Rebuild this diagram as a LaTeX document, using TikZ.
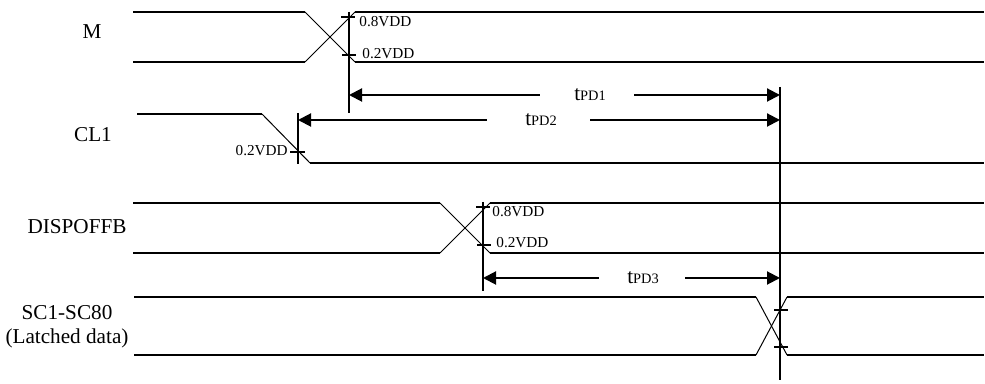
\documentclass[tikz,border=0pt]{standalone}
\usepackage{fontspec}
\setmainfont{Liberation Serif}
\usetikzlibrary{arrows.meta}
\newcommand{\tpd}[1]{t{\fontsize{7.2}{8}\selectfont PD#1}}
\begin{document}
\begin{tikzpicture}[x=0.5pt, y=-0.5pt,
		sig/.style={line width=1pt},
		edge/.style={line width=0.5pt},
		marker/.style={line width=1pt},
		lvltick/.style={line width=0.8pt},
		dly/.style={line width=1pt, -{Triangle[length=6.5pt,width=6.5pt]}},
		lvl/.style={font=\fontsize{7.6}{8}\selectfont, inner sep=0pt},
		siglbl/.style={font=\fontsize{10.6}{12}\selectfont, align=center, inner sep=0pt},
		dlbl/.style={font=\fontsize{10.6}{12}\selectfont, inner sep=0pt}]
	\useasboundingbox (0,0) rectangle (985,384);

	% M
	\node[siglbl] (lM) at (92,32) {M};
	\draw[sig] (133,12) -- (305,12);
	\draw[sig] (133,62) -- (305,62);
	\draw[edge] (305,12) -- (355,62);
	\draw[edge] (305,62) -- (355,12);
	\draw[sig] (355,12) -- (984,12);
	\draw[sig] (355,62) -- (984,62);
	\coordinate (mT) at (349,12);
	\coordinate (mB) at (349,113);
	\draw[marker] (mT) -- (mB);
	\draw[lvltick] (341,17) -- (355,17);
	\draw[lvltick] (342,55) -- (356,55);
	\node[lvl, anchor=west] (mH) at (359,22) {0.8VDD};
	\node[lvl, anchor=west] (mL) at (362,54) {0.2VDD};

	% CL1
	\node[siglbl] (lCL) at (93,135) {CL1};
	\draw[sig] (137,114) -- (262,114);
	\draw[edge] (262,114) -- (310,163);
	\draw[sig] (310,163) -- (984,163);
	\coordinate (cT) at (298,113);
	\coordinate (cB) at (298,164);
	\draw[marker] (cT) -- (cB);
	\draw[lvltick] (290,152) -- (305,152);
	\node[lvl, anchor=east] (cL) at (288,151) {0.2VDD};

	% DISPOFFB
	\node[siglbl] (lD) at (77,227) {DISPOFFB};
	\draw[sig] (133,203) -- (440,203);
	\draw[sig] (133,253) -- (440,253);
	\draw[edge] (440,203) -- (490,253);
	\draw[edge] (440,253) -- (490,203);
	\draw[sig] (490,203) -- (984,203);
	\draw[sig] (490,253) -- (984,253);
	\coordinate (dT) at (483,202);
	\coordinate (dB) at (483,291);
	\draw[marker] (dT) -- (dB);
	\draw[lvltick] (476,207) -- (490,207);
	\draw[lvltick] (477,245) -- (491,245);
	\node[lvl, anchor=west] (dH) at (492,212) {0.8VDD};
	\node[lvl, anchor=west] (dL) at (496,243) {0.2VDD};

	% SC1-SC80
	\node[siglbl] (lS) at (67,327) {SC1-SC80\\(Latched data)};
	\draw[sig] (134,297) -- (756,297);
	\draw[sig] (134,355) -- (756,355);
	\draw[edge] (756,297) -- (787,355);
	\draw[edge] (756,355) -- (787,297);
	\draw[sig] (787,297) -- (984,297);
	\draw[sig] (787,355) -- (984,355);
	\draw[lvltick] (774,310) -- (788,310);
	\draw[lvltick] (774,347) -- (788,347);
	\coordinate (sT) at (780,87);
	\coordinate (sB) at (780,380);
	\draw[marker] (sT) -- (sB);

	% delays
	\node[dlbl] (t1) at (590,95) {\tpd{1}};
	\node[dlbl] (t2) at (541,120) {\tpd{2}};
	\node[dlbl] (t3) at (643,278) {\tpd{3}};
	\coordinate (a1) at (349,95);
	\coordinate (b1) at (780,95);
	\coordinate (a2) at (298,120);
	\coordinate (b2) at (780,120);
	\coordinate (a3) at (483,278);
	\coordinate (b3) at (780,278);
	\draw[dly] (t1.west) ++(-34,0) -- (a1);
	\draw[dly] (t1.east) ++(28,0) -- (b1);
	\draw[dly] (t2.west) ++(-38,0) -- (a2);
	\draw[dly] (t2.east) ++(33,0) -- (b2);
	\draw[dly] (t3.west) ++(-28,0) -- (a3);
	\draw[dly] (t3.east) ++(26,0) -- (b3);
\end{tikzpicture}
\end{document}
